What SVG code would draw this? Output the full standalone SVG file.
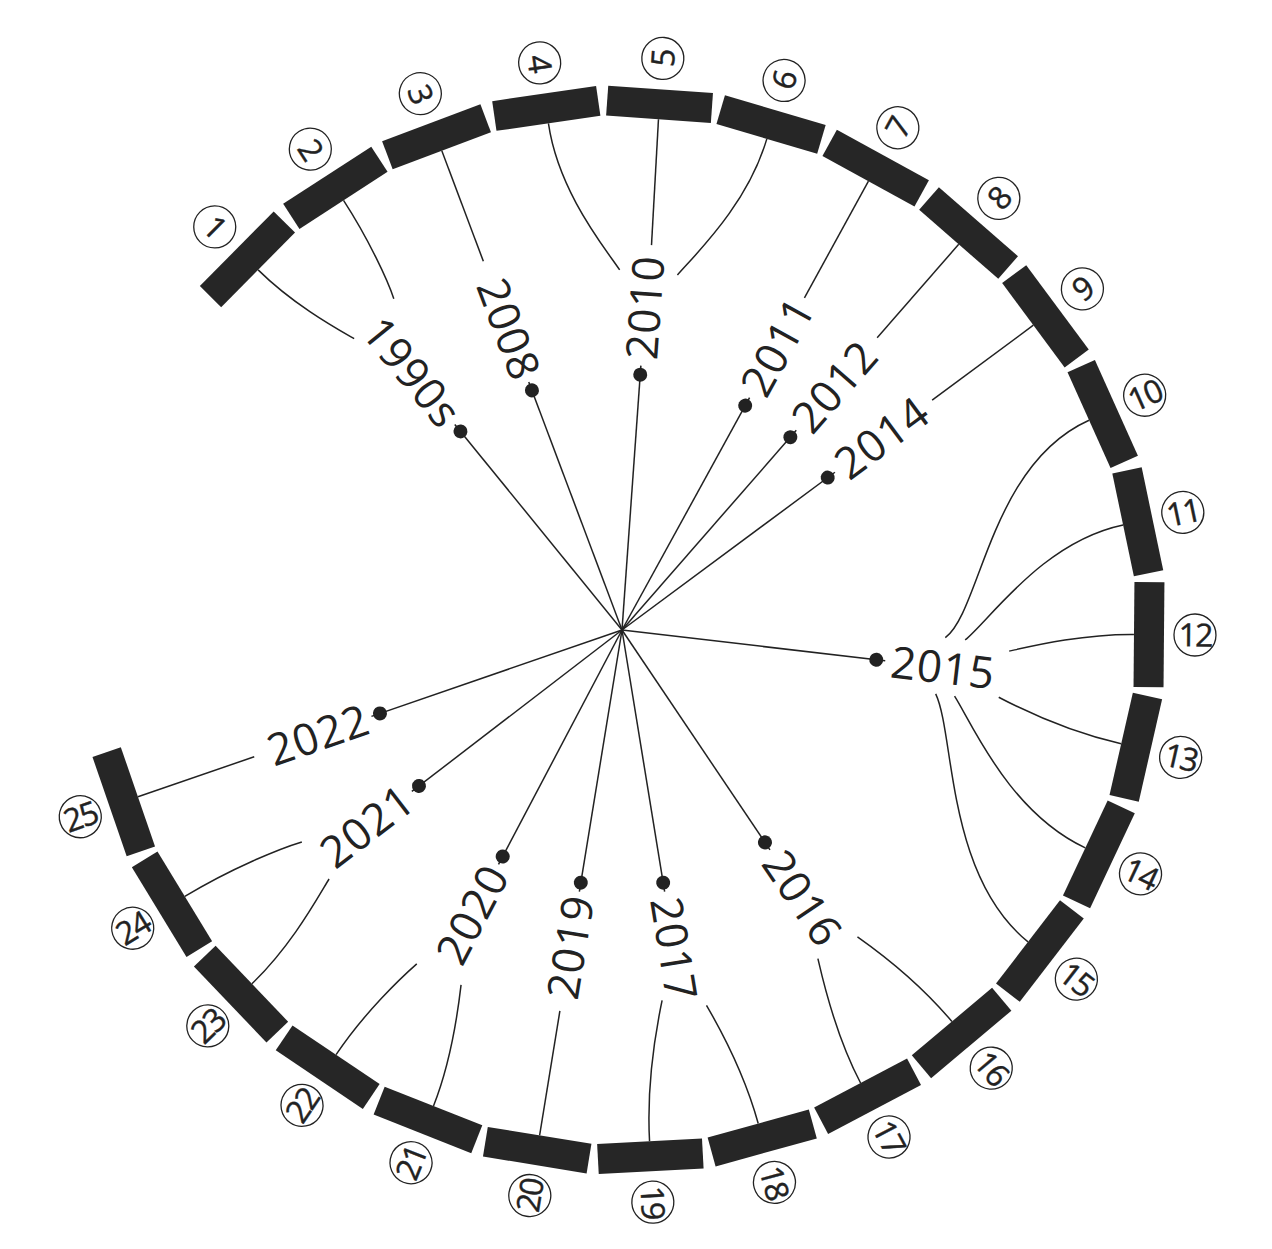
<svg xmlns="http://www.w3.org/2000/svg" width="1272" height="1249" viewBox="0 0 1272 1249">
<style>
.bar{fill:#262626}
.lnk path{fill:none;stroke:#222;stroke-width:1.5}
.dot{fill:#222}
.yr{font-family:"Open Sans","DejaVu Sans",sans-serif;font-size:44px;fill:#222;letter-spacing:1px}
.num circle{fill:#fff;stroke:#222;stroke-width:1.3}
.num text{font-family:"Open Sans","DejaVu Sans",sans-serif;font-size:32px;fill:#222;stroke:#222;stroke-width:0.4px;text-anchor:middle;letter-spacing:-2px}
</style>
<rect width="1272" height="1249" fill="#fff"/>
<g id="connectors" class="lnk">
<g transform="translate(622 630) rotate(-129.1225)"><path d="M0 0H265"/><path d="M395 -24C413.8 -31.2 459.7 -49.7 509 -55.05"/><path d="M401 32C418.6 38.7 462.9 50.1 509 55.05"/></g>
<g transform="translate(622 630) rotate(-110.605)"><path d="M0 0H265"/><path d="M394 0H512"/></g>
<g transform="translate(622 630) rotate(-85.915)"><path d="M0 0H265"/><path d="M359 -28C380.8 -45.1 433.2 -94.8 500.16 -109.47"/><path d="M386 2L512 0"/><path d="M358 30C380.8 47.1 433.2 94.8 500.16 109.47"/></g>
<g transform="translate(622 630) rotate(-61.225)"><path d="M0 0H265"/><path d="M379 0H512"/></g>
<g transform="translate(622 630) rotate(-48.88)"><path d="M0 0H265"/><path d="M388 0H512"/></g>
<g transform="translate(622 630) rotate(-36.535)"><path d="M0 0H265"/><path d="M386 0H512"/></g>
<g transform="translate(622 630) rotate(6.6725)"><path d="M0 0H265"/>
<path d="M322 -30C354.2 -60 345.9 -206.7 439.5 -262.6"/>
<path d="M342 -30C364.9 -53.7 407.7 -136.6 485.5 -162.6"/>
<path d="M387 -24C407.2 -31 456.4 -49.4 509 -55.05"/>
<path d="M382 23C402.8 31 454.3 49.1 509 55.05"/>
<path d="M338 27C359.4 53.4 405.8 135.9 485.5 162.6"/>
<path d="M319 27C342.8 65.2 350 205.7 439.5 262.6"/></g>
<g transform="translate(622 630) rotate(56.0525)"><path d="M0 0H265"/><path d="M386 -24C406.2 -31.7 456 -49.3 509 -55.05"/><path d="M382 21C402.9 29 454.1 49.1 509 55.05"/></g>
<g transform="translate(622 630) rotate(80.7425)"><path d="M0 0H265"/><path d="M384 -23C404.4 -30.8 455.1 -49.2 509 -55.05"/><path d="M372 20C394.4 28.6 450 48.7 509 55.05"/></g>
<g transform="translate(622 630) rotate(99.26)"><path d="M0 0H265"/><path d="M386 0H512"/></g>
<g transform="translate(622 630) rotate(117.7775)"><path d="M0 0H265"/><path d="M389 -23C408.7 -30.6 457.1 -49.4 509 -55.05"/><path d="M391 26C410.3 33.4 458.3 49.6 509 55.05"/></g>
<g transform="translate(622 630) rotate(142.4675)"><path d="M0 0H265"/><path d="M384 -19C404.6 -26.9 454.7 -49.2 509 -55.05"/><path d="M383 27C403.4 34.8 455.1 49.2 509 55.05"/></g>
<g transform="translate(622 630) rotate(160.985)"><path d="M0 0H265"/><path d="M389 0H512"/></g>
</g>
<g id="years">
<g id="y1990s" transform="translate(622 630) rotate(-129.1225)"><circle class="dot" cx="256" cy="0" r="7"/><text class="yr" x="269" y="0" dy="0.36em" text-anchor="end" transform="rotate(180 269 0)">1990s</text></g>
<g id="y2008" transform="translate(622 630) rotate(-110.605)"><circle class="dot" cx="256" cy="0" r="7"/><text class="yr" x="269" y="0" dy="0.36em" text-anchor="end" transform="rotate(180 269 0)">2008</text></g>
<g id="y2010" transform="translate(622 630) rotate(-85.915)"><circle class="dot" cx="256" cy="0" r="7"/><text class="yr" x="271" y="0" dy="0.36em">2010</text></g>
<g id="y2011" transform="translate(622 630) rotate(-61.225)"><circle class="dot" cx="256" cy="0" r="7"/><text class="yr" x="271" y="0" dy="0.36em">2011</text></g>
<g id="y2012" transform="translate(622 630) rotate(-48.88)"><circle class="dot" cx="256" cy="0" r="7"/><text class="yr" x="271" y="0" dy="0.36em">2012</text></g>
<g id="y2014" transform="translate(622 630) rotate(-36.535)"><circle class="dot" cx="256" cy="0" r="7"/><text class="yr" x="271" y="0" dy="0.36em">2014</text></g>
<g id="y2015" transform="translate(622 630) rotate(6.6725)"><circle class="dot" cx="256" cy="0" r="7"/><text class="yr" x="271" y="0" dy="0.36em">2015</text></g>
<g id="y2016" transform="translate(622 630) rotate(56.0525)"><circle class="dot" cx="256" cy="0" r="7"/><text class="yr" x="271" y="0" dy="0.36em">2016</text></g>
<g id="y2017" transform="translate(622 630) rotate(80.7425)"><circle class="dot" cx="256" cy="0" r="7"/><text class="yr" x="271" y="0" dy="0.36em">2017</text></g>
<g id="y2019" transform="translate(622 630) rotate(99.26)"><circle class="dot" cx="256" cy="0" r="7"/><text class="yr" x="269" y="0" dy="0.36em" text-anchor="end" transform="rotate(180 269 0)">2019</text></g>
<g id="y2020" transform="translate(622 630) rotate(117.7775)"><circle class="dot" cx="256" cy="0" r="7"/><text class="yr" x="269" y="0" dy="0.36em" text-anchor="end" transform="rotate(180 269 0)">2020</text></g>
<g id="y2021" transform="translate(622 630) rotate(142.4675)"><circle class="dot" cx="256" cy="0" r="7"/><text class="yr" x="269" y="0" dy="0.36em" text-anchor="end" transform="rotate(180 269 0)">2021</text></g>
<g id="y2022" transform="translate(622 630) rotate(160.985)"><circle class="dot" cx="256" cy="0" r="7"/><text class="yr" x="269" y="0" dy="0.36em" text-anchor="end" transform="rotate(180 269 0)">2022</text></g>
</g>
<g id="segments">
<g id="s1" transform="rotate(-135.295 622 630)"><rect class="bar" x="1134" y="577.5" width="30" height="105"/><g class="num" transform="rotate(180 1195 630)"><circle cx="1195" cy="630" r="21"/><text x="1195" y="630" dy="0.36em">1</text></g></g>
<g id="s2" transform="rotate(-122.95 622 630)"><rect class="bar" x="1134" y="577.5" width="30" height="105"/><g class="num" transform="rotate(180 1195 630)"><circle cx="1195" cy="630" r="21"/><text x="1195" y="630" dy="0.36em">2</text></g></g>
<g id="s3" transform="rotate(-110.605 622 630)"><rect class="bar" x="1134" y="577.5" width="30" height="105"/><g class="num" transform="rotate(180 1195 630)"><circle cx="1195" cy="630" r="21"/><text x="1195" y="630" dy="0.36em">3</text></g></g>
<g id="s4" transform="rotate(-98.26 622 630)"><rect class="bar" x="1134" y="577.5" width="30" height="105"/><g class="num" transform="rotate(180 1195 630)"><circle cx="1195" cy="630" r="21"/><text x="1195" y="630" dy="0.36em">4</text></g></g>
<g id="s5" transform="rotate(-85.915 622 630)"><rect class="bar" x="1134" y="577.5" width="30" height="105"/><g class="num"><circle cx="1195" cy="630" r="21"/><text x="1195" y="630" dy="0.36em">5</text></g></g>
<g id="s6" transform="rotate(-73.57 622 630)"><rect class="bar" x="1134" y="577.5" width="30" height="105"/><g class="num"><circle cx="1195" cy="630" r="21"/><text x="1195" y="630" dy="0.36em">6</text></g></g>
<g id="s7" transform="rotate(-61.225 622 630)"><rect class="bar" x="1134" y="577.5" width="30" height="105"/><g class="num"><circle cx="1195" cy="630" r="21"/><text x="1195" y="630" dy="0.36em">7</text></g></g>
<g id="s8" transform="rotate(-48.88 622 630)"><rect class="bar" x="1134" y="577.5" width="30" height="105"/><g class="num"><circle cx="1195" cy="630" r="21"/><text x="1195" y="630" dy="0.36em">8</text></g></g>
<g id="s9" transform="rotate(-36.535 622 630)"><rect class="bar" x="1134" y="577.5" width="30" height="105"/><g class="num"><circle cx="1195" cy="630" r="21"/><text x="1195" y="630" dy="0.36em">9</text></g></g>
<g id="s10" transform="rotate(-24.19 622 630)"><rect class="bar" x="1134" y="577.5" width="30" height="105"/><g class="num"><circle cx="1195" cy="630" r="21"/><text x="1195" y="630" dy="0.36em">10</text></g></g>
<g id="s11" transform="rotate(-11.845 622 630)"><rect class="bar" x="1134" y="577.5" width="30" height="105"/><g class="num"><circle cx="1195" cy="630" r="21"/><text x="1195" y="630" dy="0.36em">11</text></g></g>
<g id="s12" transform="rotate(0.5 622 630)"><rect class="bar" x="1134" y="577.5" width="30" height="105"/><g class="num"><circle cx="1195" cy="630" r="21"/><text x="1195" y="630" dy="0.36em">12</text></g></g>
<g id="s13" transform="rotate(12.845 622 630)"><rect class="bar" x="1134" y="577.5" width="30" height="105"/><g class="num"><circle cx="1195" cy="630" r="21"/><text x="1195" y="630" dy="0.36em">13</text></g></g>
<g id="s14" transform="rotate(25.19 622 630)"><rect class="bar" x="1134" y="577.5" width="30" height="105"/><g class="num"><circle cx="1195" cy="630" r="21"/><text x="1195" y="630" dy="0.36em">14</text></g></g>
<g id="s15" transform="rotate(37.535 622 630)"><rect class="bar" x="1134" y="577.5" width="30" height="105"/><g class="num"><circle cx="1195" cy="630" r="21"/><text x="1195" y="630" dy="0.36em">15</text></g></g>
<g id="s16" transform="rotate(49.88 622 630)"><rect class="bar" x="1134" y="577.5" width="30" height="105"/><g class="num"><circle cx="1195" cy="630" r="21"/><text x="1195" y="630" dy="0.36em">16</text></g></g>
<g id="s17" transform="rotate(62.225 622 630)"><rect class="bar" x="1134" y="577.5" width="30" height="105"/><g class="num"><circle cx="1195" cy="630" r="21"/><text x="1195" y="630" dy="0.36em">17</text></g></g>
<g id="s18" transform="rotate(74.57 622 630)"><rect class="bar" x="1134" y="577.5" width="30" height="105"/><g class="num"><circle cx="1195" cy="630" r="21"/><text x="1195" y="630" dy="0.36em">18</text></g></g>
<g id="s19" transform="rotate(86.915 622 630)"><rect class="bar" x="1134" y="577.5" width="30" height="105"/><g class="num"><circle cx="1195" cy="630" r="21"/><text x="1195" y="630" dy="0.36em">19</text></g></g>
<g id="s20" transform="rotate(99.26 622 630)"><rect class="bar" x="1134" y="577.5" width="30" height="105"/><g class="num" transform="rotate(180 1195 630)"><circle cx="1195" cy="630" r="21"/><text x="1195" y="630" dy="0.36em">20</text></g></g>
<g id="s21" transform="rotate(111.605 622 630)"><rect class="bar" x="1134" y="577.5" width="30" height="105"/><g class="num" transform="rotate(180 1195 630)"><circle cx="1195" cy="630" r="21"/><text x="1195" y="630" dy="0.36em">21</text></g></g>
<g id="s22" transform="rotate(123.95 622 630)"><rect class="bar" x="1134" y="577.5" width="30" height="105"/><g class="num" transform="rotate(180 1195 630)"><circle cx="1195" cy="630" r="21"/><text x="1195" y="630" dy="0.36em">22</text></g></g>
<g id="s23" transform="rotate(136.295 622 630)"><rect class="bar" x="1134" y="577.5" width="30" height="105"/><g class="num" transform="rotate(180 1195 630)"><circle cx="1195" cy="630" r="21"/><text x="1195" y="630" dy="0.36em">23</text></g></g>
<g id="s24" transform="rotate(148.64 622 630)"><rect class="bar" x="1134" y="577.5" width="30" height="105"/><g class="num" transform="rotate(180 1195 630)"><circle cx="1195" cy="630" r="21"/><text x="1195" y="630" dy="0.36em">24</text></g></g>
<g id="s25" transform="rotate(160.985 622 630)"><rect class="bar" x="1134" y="577.5" width="30" height="105"/><g class="num" transform="rotate(180 1195 630)"><circle cx="1195" cy="630" r="21"/><text x="1195" y="630" dy="0.36em">25</text></g></g>
</g>
</svg>
